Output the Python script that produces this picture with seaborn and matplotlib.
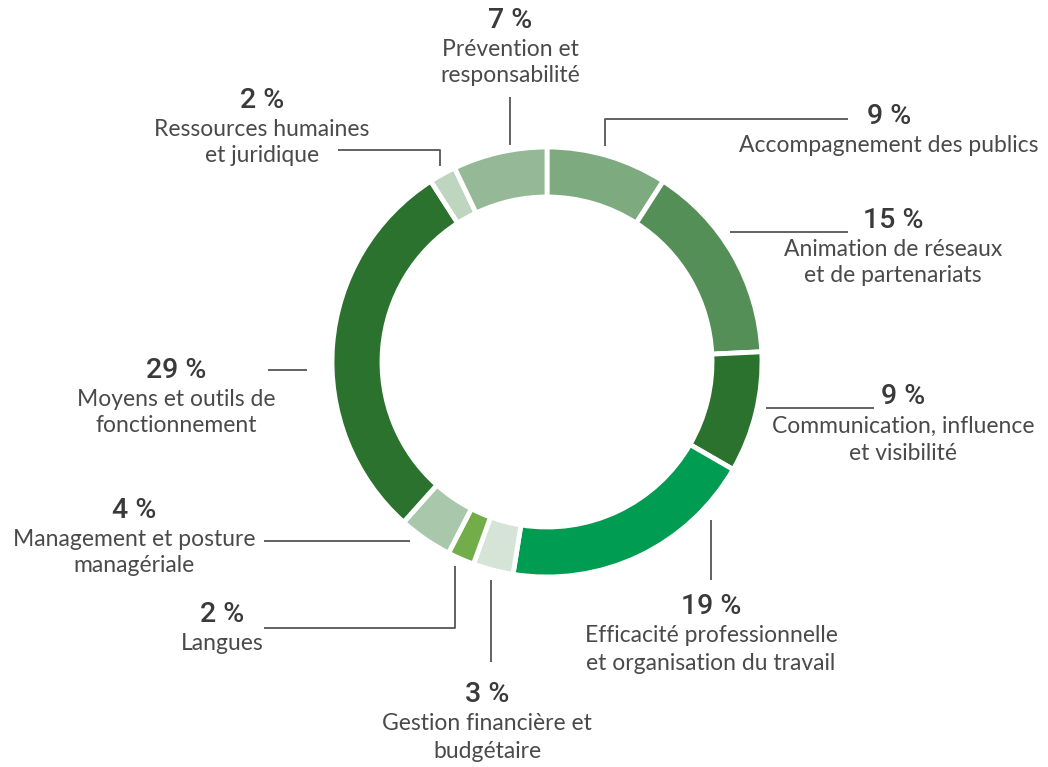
import matplotlib
matplotlib.use("Agg")
import matplotlib.pyplot as plt
import seaborn as sns

# Share of training hours by theme (%)
themes = [
    "Accompagnement des publics",
    "Animation de réseaux\net de partenariats",
    "Communication, influence\net visibilité",
    "Efficacité professionnelle\net organisation du travail",
    "Gestion financière et\nbudgétaire",
    "Langues",
    "Management et posture\nmanagériale",
    "Moyens et outils de\nfonctionnement",
    "Ressources humaines\net juridique",
    "Prévention et\nresponsabilité",
]
shares = [9, 15, 9, 19, 3, 2, 4, 29, 2, 7]
colors = [
    "#7eaa80", "#558f58", "#2b722e", "#009c52", "#d6e3d7",
    "#72ad4a", "#a9c7aa", "#2b722e", "#bed6bf", "#95b996",
]

sns.set_theme(style="white")
plt.rcParams["font.family"] = ["Lato", "DejaVu Sans"]

W, H = 1048, 767
fig = plt.figure(figsize=(W / 100, H / 100), dpi=100)
ax = fig.add_axes([0, 0, 1, 1])


def Y(y):
    # top-down pixel row to axis coordinate
    return H - y


cx, cy, R = 547, 362, 215
ax.pie(
    shares,
    colors=colors,
    startangle=90,
    counterclock=False,
    radius=R,
    center=(cx, Y(cy)),
    wedgeprops=dict(width=50, edgecolor="white", linewidth=3.5),
    frame=True,
)
ax.set_xlim(0, W)
ax.set_ylim(0, H)
ax.set_aspect("equal")
ax.axis("off")

pct_kw = dict(fontsize=20.5, color="#3a3a3a", fontweight="medium",
              family=["Roboto", "DejaVu Sans"], ha="center", va="center")
lab_kw = dict(fontsize=16.5, color="#4a4a4a", fontweight="normal", ha="center", va="center")
line_kw = dict(color="#555555", lw=1.3, solid_capstyle="butt")

# label anchor (x, y of the percentage) and leader line for each theme
label_pos = [
    (889, 117), (893, 220), (903, 397), (711, 607), (487, 695),
    (222, 615), (134, 510), (176, 370), (262, 100), (510, 20),
]
leaders = [
    [(605, 146), (605, 119), (848, 119)],
    [(730, 232), (848, 232)],
    [(766, 408), (874, 408)],
    [(711, 520), (711, 580)],
    [(491, 580), (491, 662)],
    [(455, 566), (455, 628), (264, 628)],
    [(264, 541), (410, 541)],
    [(268, 370), (307, 370)],
    [(338, 150), (440, 150), (440, 166)],
    [(510, 97), (510, 145)],
]

for name, val, (lx, ly), pts in zip(themes, shares, label_pos, leaders):
    ax.text(lx, Y(ly), f"{val} %", **pct_kw)
    for i, line in enumerate(name.split("\n")):
        ax.text(lx, Y(ly + 29 + 27 * i), line, **lab_kw)
    xs = [p[0] for p in pts]
    ys = [Y(p[1]) for p in pts]
    ax.plot(xs, ys, **line_kw)

fig.savefig("out.png", dpi=100, facecolor="white")
